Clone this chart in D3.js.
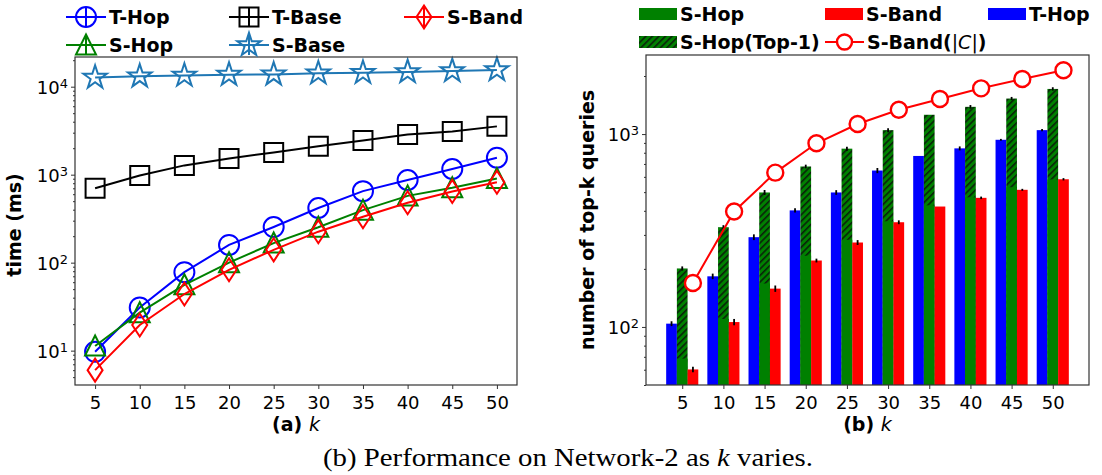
<!DOCTYPE html>
<html>
<head>
<meta charset="utf-8">
<script src="https://cdn.jsdelivr.net/npm/d3@7"></script>
<style>
  body { margin: 0; background: #fff; }
  svg { font-family: "DejaVu Sans", sans-serif; }
</style>
</head>
<body>
<svg id="fig" width="1102" height="475"></svg>
<script>
// ---------- data ----------
const kValues = [5, 10, 15, 20, 25, 30, 35, 40, 45, 50];

// (a) query time (ms)
const timeTHop  = [9.7, 31, 78, 159, 254, 418, 650, 870, 1160, 1560];
const timeTBase = [700, 980, 1275, 1530, 1790, 2100, 2450, 2860, 3100, 3540];
const timeSBand = [6.0, 19.6, 44, 83, 140, 225, 333, 480, 645, 820];
const timeSHop  = [11.3, 27, 56, 100, 167, 253, 395, 574, 710, 905];
const timeSBase = [12700, 13100, 13400, 13700, 13800, 14200, 14400, 14700, 15100, 15500];

// (b) number of top-k queries
const cntTHop     = [104, 183, 292, 402, 498, 647, 770, 843, 934, 1048];
const cntSHop     = [68.5, 110, 168, 234, 283, 353, 427, 470, 530, 582];
const cntSHopTop1 = [201, 329, 498, 679, 840, 1048, 1259, 1384, 1528, 1714];
const cntSBand    = [60.2, 106, 158, 221, 274, 349, 421, 467, 514, 583];
const cntSBandC   = [169, 397, 631, 896, 1128, 1337, 1520, 1726, 1930, 2142];
const errTHop     = [3, 6, 10, 10, 14, 20, 0, 20, 10, 15];
const errSHopTop1 = [5, 8, 15, 15, 20, 25, 0, 30, 30, 35];
const errSBand    = [2, 4, 6, 5, 8, 8, 0, 7, 6, 8];

const yTicksA = [10, 100, 1000, 10000];
const yTicksB = [100, 1000];

// ---------- setup ----------
const svg = d3.select("#fig");
svg.append("rect").attr("width", 1102).attr("height", 475).attr("fill", "#fff");

const FS = 18;        // tick label size
const LFS = 19;       // legend / axis label size
const axisColor = "#333";

function minorTicks(domain) {
  const out = [];
  const lo = Math.floor(Math.log10(domain[0])), hi = Math.ceil(Math.log10(domain[1]));
  for (let e = lo; e <= hi; e++) {
    for (let m = 2; m <= 9; m++) {
      const v = m * Math.pow(10, e);
      if (v >= domain[0] && v <= domain[1]) out.push(v);
    }
  }
  return out;
}

function logAxis(g, y, ticks) {
  const ax = g.append("g").call(d3.axisLeft(y).tickValues(ticks).tickSize(4).tickPadding(3));
  ax.select(".domain").remove();
  ax.selectAll("line").attr("stroke", axisColor);
  ax.selectAll("text").each(function (d) {
    const t = d3.select(this).text(null).attr("fill", "#000")
      .attr("font-size", FS).attr("font-family", "DejaVu Sans").attr("dy", "0.36em");
    t.append("tspan").text("10");
    t.append("tspan").attr("dy", "-0.45em").attr("font-size", FS * 0.72).text(Math.round(Math.log10(d)));
  });
  const mn = g.append("g").call(d3.axisLeft(y).tickValues(minorTicks(y.domain())).tickSize(2).tickFormat(""));
  mn.select(".domain").remove();
  mn.selectAll("line").attr("stroke", axisColor);
}

function frame(x0, y0, x1, y1) {
  svg.append("rect").attr("x", x0).attr("y", y0).attr("width", x1 - x0).attr("height", y1 - y0)
    .attr("fill", "none").attr("stroke", axisColor).attr("stroke-width", 1.2);
}

// ---------- marker shapes ----------
function markerPath(kind) {
  switch (kind) {
    case "circle":   return d3.symbol(d3.symbolCircle, Math.PI * 10 * 10)();
    case "square":   return "M-9.5,-9.5H9.5V9.5H-9.5Z";
    case "triangle": return "M0,-10.5L10,9.5L-10,9.5Z";
    case "diamond":  return "M0,-11.5L7.5,0L0,11.5L-7.5,0Z";
    case "star":     return d3.symbol(d3.symbolStar, 170)();
  }
}

// ================= (a) =================
const A = { x0: 75, x1: 517, y0: 57, y1: 385 };
const xA = d3.scaleLinear().domain([2.75, 52.25]).range([A.x0, A.x1]);
const yA = d3.scaleLog().domain([4.07, 21750]).range([A.y1, A.y0]);

const gA = svg.append("g");
const gAy = gA.append("g").attr("transform", `translate(${A.x0},0)`);
logAxis(gAy, yA, yTicksA);
const gAx = gA.append("g").attr("transform", `translate(0,${A.y1})`)
  .call(d3.axisBottom(xA).tickValues(kValues).tickSize(4).tickPadding(7));
gAx.select(".domain").remove();
gAx.selectAll("line").attr("stroke", axisColor);
gAx.selectAll("text").attr("font-size", FS).attr("font-family", "DejaVu Sans").attr("fill", "#000");

const seriesA = [
  { name: "T-Hop",  vals: timeTHop,  color: "blue",    marker: "circle" },
  { name: "S-Hop",  vals: timeSHop,  color: "green",   marker: "triangle" },
  { name: "T-Base", vals: timeTBase, color: "black",   marker: "square" },
  { name: "S-Base", vals: timeSBase, color: "#1f77b4", marker: "star" },
  { name: "S-Band", vals: timeSBand, color: "red",     marker: "diamond" }
];

const plotA = svg.append("g");
const lineA = d3.line().x((d, i) => xA(kValues[i])).y(d => yA(d));
seriesA.forEach(s => {
  const g = plotA.append("g");
  g.append("path").attr("d", lineA(s.vals)).attr("fill", "none")
    .attr("stroke", s.color).attr("stroke-width", 2);
  g.selectAll("path.m").data(s.vals).join("path").attr("class", "m")
    .attr("transform", (d, i) => `translate(${xA(kValues[i])},${yA(d)})`)
    .attr("d", markerPath(s.marker)).attr("fill", "none")
    .attr("stroke", s.color).attr("stroke-width", 2);
});
frame(A.x0, A.y0, A.x1, A.y1);

// axis labels (a)
svg.append("text").attr("transform", `translate(21,${(A.y0 + A.y1) / 2 + 4}) rotate(-90)`)
  .attr("text-anchor", "middle").attr("font-weight", "bold").attr("font-size", LFS).text("time (ms)");
{
  const t = svg.append("text").attr("x", (A.x0 + A.x1) / 2).attr("y", 431)
    .attr("text-anchor", "middle").attr("font-size", LFS);
  t.append("tspan").attr("font-weight", "bold").text("(a) ");
  t.append("tspan").attr("font-style", "italic").text("k");
}

// legend (a): three columns, filled column-wise
const legA = [
  { s: seriesA[0], x: 86,  y: 17 },
  { s: seriesA[1], x: 86,  y: 45 },
  { s: seriesA[2], x: 249, y: 17 },
  { s: seriesA[3], x: 249, y: 45 },
  { s: seriesA[4], x: 424, y: 17 }
];
legA.forEach(({ s, x, y }) => {
  const g = svg.append("g").attr("transform", `translate(${x},${y})`);
  g.append("line").attr("x1", -20).attr("x2", 20).attr("stroke", s.color).attr("stroke-width", 2);
  g.append("line").attr("y1", -10).attr("y2", 10).attr("stroke", s.color).attr("stroke-width", 2);
  g.append("path").attr("d", markerPath(s.marker)).attr("fill", "none")
    .attr("stroke", s.color).attr("stroke-width", 2);
  g.append("text").attr("x", 23).attr("dy", "0.36em").attr("font-weight", "bold")
    .attr("font-size", LFS).text(s.name);
});

// ================= (b) =================
const B = { x0: 646, x1: 1089, y0: 55, y1: 385 };
const idx = kValues.map((d, i) => i);
const xB = d3.scaleLinear().domain([-0.88, 9.88]).range([B.x0, B.x1]);
const yB = d3.scaleLog().domain([50, 2570]).range([B.y1, B.y0]);
const bw = 0.26;

const defs = svg.append("defs");
const pat = defs.append("pattern").attr("id", "hatch").attr("patternUnits", "userSpaceOnUse")
  .attr("width", 4.6).attr("height", 4.6).attr("patternTransform", "rotate(45)");
pat.append("rect").attr("width", 4.6).attr("height", 4.6).attr("fill", "green");
pat.append("line").attr("x1", 0.8).attr("x2", 0.8).attr("y1", 0).attr("y2", 4.6)
  .attr("stroke", "#0a1a0a").attr("stroke-width", 1.5);

const gBy = svg.append("g").attr("transform", `translate(${B.x0},0)`);
logAxis(gBy, yB, yTicksB);
const gBx = svg.append("g").attr("transform", `translate(0,${B.y1})`)
  .call(d3.axisBottom(xB).tickValues(idx).tickFormat(i => kValues[i]).tickSize(4).tickPadding(7));
gBx.select(".domain").remove();
gBx.selectAll("line").attr("stroke", axisColor);
gBx.selectAll("text").attr("font-size", FS).attr("font-family", "DejaVu Sans").attr("fill", "#000");

const plotB = svg.append("g");
function bars(vals, offset, fill) {
  plotB.append("g").selectAll("rect").data(vals).join("rect")
    .attr("x", (d, i) => xB(i + offset - bw / 2))
    .attr("width", xB(bw) - xB(0))
    .attr("y", d => yB(d))
    .attr("height", d => B.y1 - yB(d))
    .attr("fill", fill);
}
function errs(vals, e, offset) {
  plotB.append("g").selectAll("line").data(vals).join("line")
    .attr("x1", (d, i) => xB(i + offset)).attr("x2", (d, i) => xB(i + offset))
    .attr("y1", (d, i) => yB(d + e[i])).attr("y2", (d, i) => yB(Math.max(d - e[i], 1)))
    .attr("stroke", "#000").attr("stroke-width", 1.8)
    .style("display", (d, i) => e[i] > 0 ? null : "none");
}
bars(cntTHop, -bw, "blue");
bars(cntSHopTop1, 0, "url(#hatch)");
bars(cntSHop, 0, "green");
bars(cntSBand, bw, "red");
errs(cntTHop, errTHop, -bw);
errs(cntSHopTop1, errSHopTop1, 0);
errs(cntSBand, errSBand, bw);

const lineB = d3.line().x((d, i) => xB(i + bw)).y(d => yB(d));
plotB.append("path").attr("d", lineB(cntSBandC)).attr("fill", "none")
  .attr("stroke", "red").attr("stroke-width", 2);
plotB.append("g").selectAll("circle").data(cntSBandC).join("circle")
  .attr("cx", (d, i) => xB(i + bw)).attr("cy", d => yB(d)).attr("r", 8)
  .attr("fill", "#fff").attr("stroke", "red").attr("stroke-width", 2.4);
frame(B.x0, B.y0, B.x1, B.y1);

svg.append("text").attr("transform", `translate(594,${(B.y0 + B.y1) / 2}) rotate(-90)`)
  .attr("text-anchor", "middle").attr("font-weight", "bold").attr("font-size", LFS)
  .text("number of top-k queries");
{
  const t = svg.append("text").attr("x", (B.x0 + B.x1) / 2).attr("y", 431)
    .attr("text-anchor", "middle").attr("font-size", LFS);
  t.append("tspan").attr("font-weight", "bold").text("(b) ");
  t.append("tspan").attr("font-style", "italic").text("k");
}

// legend (b)
const legB = [
  { label: "S-Hop",        x: 639, y: 14, fill: "green" },
  { label: "S-Hop(Top-1)", x: 639, y: 42, fill: "url(#hatch)" },
  { label: "S-Band",       x: 825, y: 14, fill: "red" },
  { label: "T-Hop",        x: 988, y: 14, fill: "blue" }
];
legB.forEach(l => {
  const g = svg.append("g").attr("transform", `translate(${l.x},${l.y})`);
  g.append("rect").attr("y", -6).attr("width", 38).attr("height", 12).attr("fill", l.fill);
  g.append("text").attr("x", 41).attr("dy", "0.36em").attr("font-weight", "bold")
    .attr("font-size", LFS).text(l.label);
});
{
  const g = svg.append("g").attr("transform", "translate(825,42)");
  g.append("line").attr("x1", 0).attr("x2", 39).attr("stroke", "red").attr("stroke-width", 2);
  g.append("circle").attr("cx", 19.5).attr("r", 7.5).attr("fill", "#fff")
    .attr("stroke", "red").attr("stroke-width", 2.4);
  const t = g.append("text").attr("x", 42).attr("dy", "0.36em").attr("font-weight", "bold")
    .attr("font-size", LFS);
  t.append("tspan").text("S-Band(");
  t.append("tspan").attr("font-weight", "normal").text("|");
  t.append("tspan").attr("font-weight", "normal").attr("font-style", "italic").text("C");
  t.append("tspan").attr("font-weight", "normal").text("|");
  t.append("tspan").text(")");
}

// ---------- caption ----------
{
  const t = svg.append("text").attr("x", 323).attr("y", 466)
    .attr("font-family", "'Liberation Serif', 'DejaVu Serif', serif").attr("font-size", 25)
    .attr("textLength", 490).attr("lengthAdjust", "spacingAndGlyphs");
  t.append("tspan").text("(b) Performance on Network-2 as ");
  t.append("tspan").attr("font-style", "italic").text("k");
  t.append("tspan").text(" varies.");
}
</script>
</body>
</html>
